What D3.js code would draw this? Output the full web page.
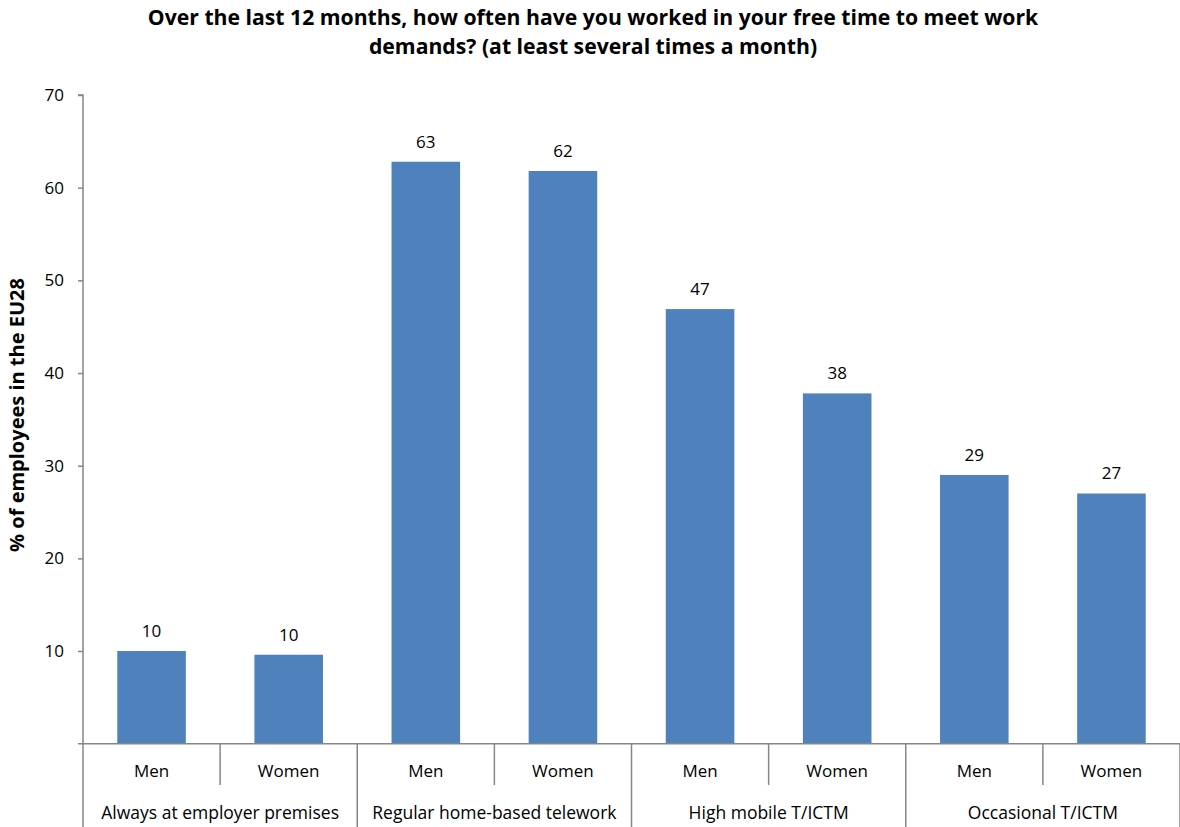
<!DOCTYPE html>
<html><head><meta charset="utf-8">
<script src="https://cdn.jsdelivr.net/npm/d3@7"></script>
<style>body{margin:0;background:#fff}svg{display:block}text{font-family:"Open Sans",sans-serif;fill:#000}</style>
</head><body><svg id="c" width="1180" height="827"></svg>
<script>
const groups = ["Always at employer premises","Regular home-based telework","High mobile T/ICTM","Occasional T/ICTM"];
const sexes = ["Men","Women"];
const values = [10.0, 9.6, 62.8, 61.8, 46.9, 37.8, 29.0, 27.0];
const labels = ["10","10","63","62","47","38","29","27"];
const yTicks = [10,20,30,40,50,60,70];
const title = ["Over the last 12 months, how often have you worked in your free time to meet work","demands? (at least several times a month)"];
const yTitle = "% of employees in the EU28";

const svg = d3.select("#c");
const L = 83, R = 1180, Y0 = 743.7, Y70 = 95;
const keys = d3.range(values.length);
const x = d3.scaleBand().domain(keys).range([L, R]).paddingInner(0.5).paddingOuter(0.25);
const y = d3.scaleLinear().domain([0,70]).range([Y0, Y70]);
const axisColor = "#868686";
const FS = 17;

// bars
svg.selectAll("rect.bar").data(values).join("rect")
  .attr("x",(d,i)=>x(i)).attr("width",x.bandwidth())
  .attr("y",d=>y(d)).attr("height",d=>Y0-y(d)).attr("fill","#4F81BD");
svg.selectAll("text.val").data(values).join("text")
  .attr("x",(d,i)=>x(i)+x.bandwidth()/2).attr("y",d=>y(d)-14)
  .attr("text-anchor","middle").attr("font-size",FS).text((d,i)=>labels[i]);

// y axis
const ya = svg.append("g").attr("transform",`translate(${L},0)`)
  .call(d3.axisLeft(y).tickValues(yTicks).tickSize(5).tickPadding(14).tickFormat(d3.format("d")));
ya.select(".domain").attr("stroke",axisColor).attr("stroke-width",1.5).attr("d",`M-5,${Y70}H0V${Y0}`);
ya.selectAll(".tick line").attr("stroke",axisColor).attr("stroke-width",1.5);
ya.selectAll(".tick text").attr("font-size",FS).attr("font-family","Open Sans").attr("fill","#000");

// x axis
const step = (R-L)/values.length;
svg.append("line").attr("x1",L-5).attr("x2",R).attr("y1",Y0).attr("y2",Y0).attr("stroke",axisColor).attr("stroke-width",1.5);
for(let i=0;i<=values.length;i++){
  const xx = L + i*step;
  const full = i%2===0;
  svg.append("line").attr("x1",xx).attr("x2",xx).attr("y1",Y0).attr("y2",full?827:785)
    .attr("stroke",axisColor).attr("stroke-width",1.5);
}
svg.selectAll("text.sex").data(keys).join("text")
  .attr("x",i=>L+(i+0.5)*step).attr("y",777).attr("text-anchor","middle").attr("font-size",FS)
  .text(i=>sexes[i%2]);
svg.selectAll("text.grp").data(groups).join("text")
  .attr("x",(d,i)=>L+(i+0.5)*2*step).attr("y",819).attr("text-anchor","middle").attr("font-size",17.5)
  .text(d=>d);

// titles
svg.selectAll("text.title").data(title).join("text")
  .attr("x",593).attr("y",(d,i)=>25+i*29).attr("text-anchor","middle")
  .attr("font-size",21.2).attr("font-weight","bold").text(d=>d);
svg.append("text").attr("transform","translate(24,415) rotate(-90)").attr("text-anchor","middle")
  .attr("font-size",20).attr("font-weight","bold").text(yTitle);
</script></body></html>
